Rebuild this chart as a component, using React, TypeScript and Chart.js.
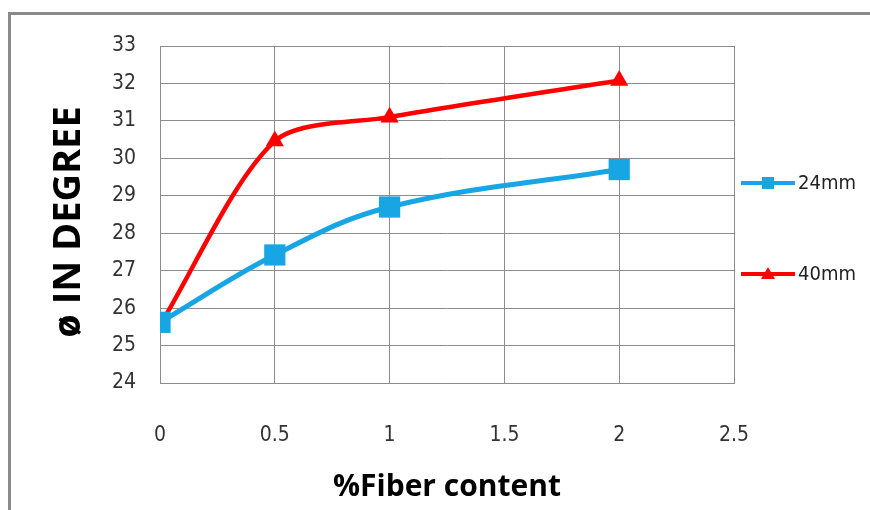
import React, { useEffect, useRef } from "react";
import { Chart, registerables } from "chart.js";

Chart.register(...registerables);

const fiberContent = [0, 0.5, 1, 2];
const series24mm = [25.62, 27.42, 28.7, 29.7];
const series40mm = [25.55, 30.46, 31.1, 32.08];
const xTicks = [0, 0.5, 1, 1.5, 2, 2.5];
const yTicks = [24, 25, 26, 27, 28, 29, 30, 31, 32, 33];
const seriesNames = ["24mm", "40mm"];

const BLUE = "#17a6e3";
const RED = "#ff0000";
const TICK_FONT = "'Liberation Sans Narrow', 'DejaVu Sans Condensed', 'Noto Sans', sans-serif";
const TITLE_FONT = "'Open Sans', 'Noto Sans', sans-serif";

const overlayPlugin = {
  id: "overlay",
  afterDraw(chart: any) {
    const ctx = chart.ctx;
    ctx.save();
    // outer frame (top and left edges)
    ctx.strokeStyle = "#8a8a8a";
    ctx.lineWidth = 3;
    ctx.beginPath();
    ctx.moveTo(9.5, 600);
    ctx.lineTo(9.5, 13.5);
    ctx.lineTo(900, 13.5);
    ctx.stroke();

    // axis titles
    ctx.fillStyle = "#000";
    ctx.font = `bold 30px ${TITLE_FONT}`;
    ctx.textAlign = "center";
    ctx.textBaseline = "middle";
    ctx.fillText("%Fiber content", 447, 487);
    ctx.save();
    ctx.translate(69, 222);
    ctx.rotate(-Math.PI / 2);
    ctx.font = `bold 38px ${TITLE_FONT}`;
    ctx.fillText("ø IN DEGREE", 0, 0);
    ctx.restore();

    // legend
    const items = [
      { label: seriesNames[0], color: BLUE, style: "rect", y: 183 },
      { label: seriesNames[1], color: RED, style: "triangle", y: 274 },
    ];
    items.forEach((it) => {
      ctx.strokeStyle = it.color;
      ctx.lineWidth = 4;
      ctx.beginPath();
      ctx.moveTo(741, it.y);
      ctx.lineTo(795, it.y);
      ctx.stroke();
      ctx.fillStyle = it.color;
      if (it.style === "rect") {
        ctx.fillRect(762, it.y - 6, 12, 12);
      } else {
        ctx.beginPath();
        ctx.moveTo(768, it.y - 7);
        ctx.lineTo(775, it.y + 5);
        ctx.lineTo(761, it.y + 5);
        ctx.closePath();
        ctx.fill();
      }
      ctx.fillStyle = "#222";
      ctx.font = `20px ${TICK_FONT}`;
      ctx.textAlign = "left";
      ctx.textBaseline = "middle";
      ctx.fillText(it.label, 798, it.y + 1);
    });
    ctx.restore();
  },
};

export default function App() {
  const ref = useRef<HTMLCanvasElement | null>(null);
  useEffect(() => {
    if (!ref.current) return;
    const chart = new Chart(ref.current, {
      type: "line",
      data: {
        datasets: [
          {
            label: seriesNames[0],
            data: fiberContent.map((x, i) => ({ x, y: series24mm[i] })),
            borderColor: BLUE,
            backgroundColor: BLUE,
            borderWidth: 5,
            pointStyle: "rect",
            pointRadius: 15,
            pointBorderWidth: 0,
            tension: 0.38,
          },
          {
            label: seriesNames[1],
            data: fiberContent.map((x, i) => ({ x, y: series40mm[i] })),
            borderColor: RED,
            backgroundColor: RED,
            borderWidth: 4.5,
            pointStyle: "triangle",
            pointRadius: 10.5,
            pointBorderWidth: 0,
            tension: 0.28,
          },
        ],
      },
      options: {
        animation: false,
        responsive: false,
        maintainAspectRatio: false,
        layout: { padding: { top: 46, right: 136, bottom: 0, left: 0 } },
        plugins: { legend: { display: false }, tooltip: { enabled: false } },
        scales: {
          x: {
            type: "linear",
            min: 0,
            max: 2.5,
            afterBuildTicks: (s: any) => {
              s.ticks = xTicks.map((v) => ({ value: v }));
            },
            afterFit: (s: any) => {
              s.height = 127;
            },
            ticks: {
              color: "#333",
              font: { family: TICK_FONT, size: 21 },
              padding: 40,
              maxRotation: 0,
              callback: (v: any) => String(v),
            },
            grid: { color: "#8c8c8c", lineWidth: 1, drawTicks: false },
            border: { color: "#8c8c8c", width: 1 },
          },
          y: {
            min: 24,
            max: 33,
            afterBuildTicks: (s: any) => {
              s.ticks = yTicks.map((v) => ({ value: v }));
            },
            afterFit: (s: any) => {
              s.width = 160;
            },
            ticks: {
              color: "#333",
              font: { family: TICK_FONT, size: 21 },
              padding: 24,
              callback: (v: any) => String(v),
            },
            grid: { color: "#8c8c8c", lineWidth: 1, drawTicks: false },
            border: { color: "#8c8c8c", width: 1 },
          },
        },
      },
      plugins: [overlayPlugin],
    } as any);
    return () => chart.destroy();
  }, []);
  return (
    <div style={{ position: "fixed", left: 0, top: 0, width: 870, height: 510, background: "#fff" }}>
      <canvas ref={ref} width={870} height={510} style={{ width: 870, height: 510, display: "block" }} />
    </div>
  );
}
